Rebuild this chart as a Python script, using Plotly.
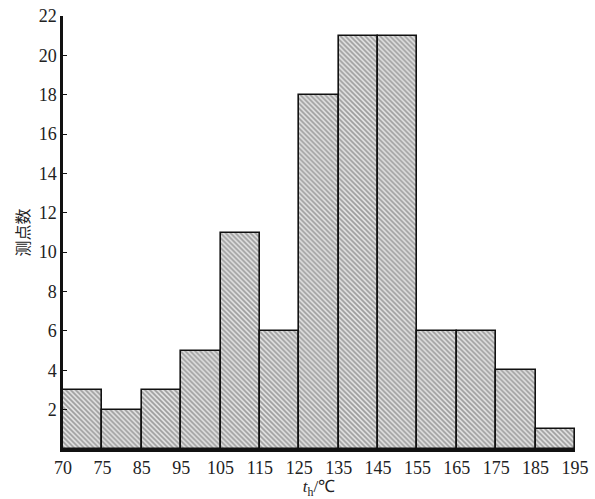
import plotly.graph_objects as go

edges = ["70", "75", "85", "95", "105", "115", "125", "135", "145", "155", "165", "175", "185", "195"]
counts = [3, 2, 3, 5, 11, 6, 18, 21, 21, 6, 6, 4, 1]
y_ticks = [2, 4, 6, 8, 10, 12, 14, 16, 18, 20, 22]

centers = [i + 0.5 for i in range(len(counts))]

fig = go.Figure()
fig.add_trace(go.Bar(
    x=centers, y=counts, width=1,
    marker=dict(
        color="#d0d0d0",
        line=dict(color="#111", width=1.6),
        pattern=dict(shape="\\", fgcolor="#555", bgcolor="#e4e4e4", size=3.5, solidity=0.5),
    ),
    showlegend=False,
))

serif = "Times New Roman, Liberation Serif, serif"
font = dict(family=serif, size=18, color="#222")
fig.update_layout(
    width=595, height=499,
    margin=dict(l=63, r=20, t=16, b=50),
    plot_bgcolor="white", paper_bgcolor="white",
    bargap=0,
    font=font,
)
fig.update_xaxes(
    range=[0, len(counts)],
    tickvals=list(range(len(edges))), ticktext=edges,
    showline=True, linecolor="#111", linewidth=3,
    ticks="", showgrid=False, zeroline=False,
    tickfont=font, automargin=False,
    title=dict(text="<i>t</i><sub>h</sub>/℃", font=dict(family=serif, size=17, color="#222"), standoff=0),
)
fig.update_yaxes(
    range=[0, 22],
    tickvals=y_ticks,
    showline=True, linecolor="#111", linewidth=2.5,
    ticks="inside", ticklen=4, tickcolor="#111",
    showgrid=False, zeroline=False, ticklabeloverflow="allow",
    tickfont=font, automargin=False,
    title=dict(text="测点数", font=dict(family="Noto Sans CJK SC", size=16, color="#222"), standoff=6),
)
fig.write_html(
    "out.html",
    config={"displayModeBar": False},
    post_script="document.body.style.margin='0';document.body.style.overflow='hidden';",
)
